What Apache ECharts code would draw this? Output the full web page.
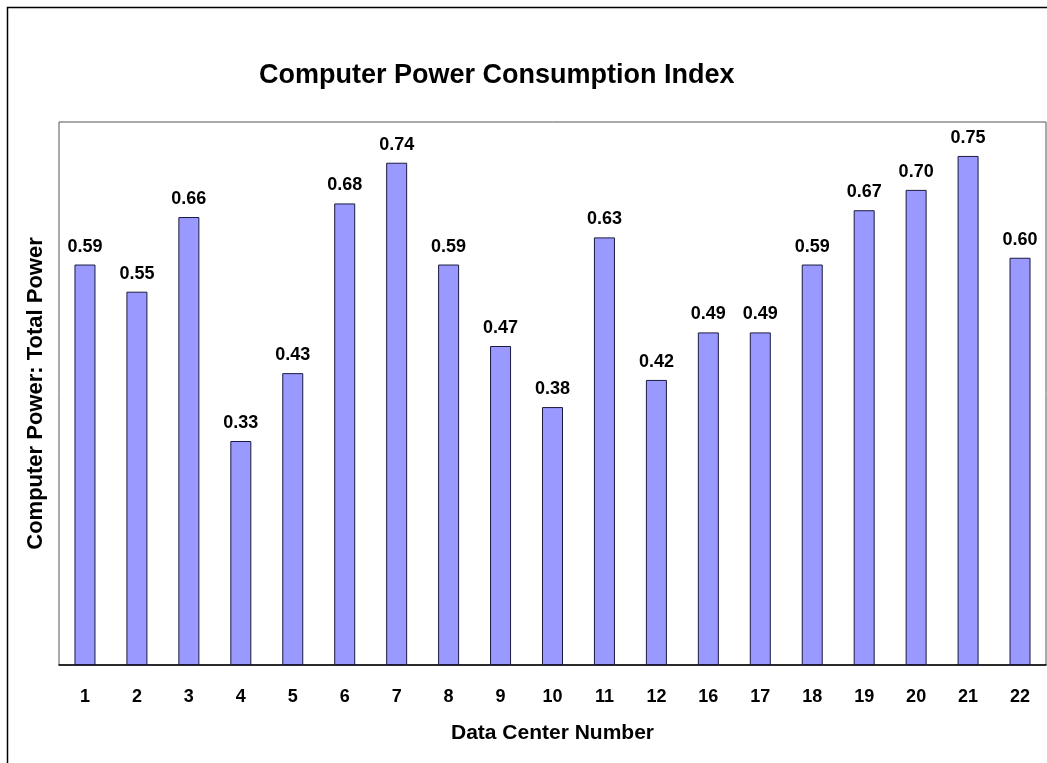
<!DOCTYPE html>
<html>
<head>
<meta charset="utf-8">
<script src="https://cdn.jsdelivr.net/npm/echarts@6/dist/echarts.min.js"></script>
<style>
  html, body { margin: 0; padding: 0; background: #fff; }
  #chart { width: 1047px; height: 763px; }
</style>
</head>
<body>
<div id="chart"></div>
<script>
var FONT = '"Liberation Sans", Arial, sans-serif'

// data center numbers (13-15 are missing in the source)
var centers = ['1', '2', '3', '4', '5', '6', '7', '8', '9', '10', '11', '12', '16', '17', '18', '19', '20', '21', '22']
// computer power : total power
var powerIndex = [0.59, 0.55, 0.66, 0.33, 0.43, 0.68, 0.74, 0.59, 0.47, 0.38, 0.63, 0.42, 0.49, 0.49, 0.59, 0.67, 0.70, 0.75, 0.60]

var option = {
  animation: false,
  backgroundColor: '#fff',
  title: {
    text: 'Computer Power Consumption Index',
    left: 254,
    top: 57,
    textStyle: { fontFamily: FONT, fontSize: 27, fontWeight: 'bold', color: '#000' }
  },
  graphic: [
    {
      // outer frame, runs off the right and bottom edge
      type: 'rect',
      shape: { x: 7.5, y: 7.5, width: 1100, height: 800 },
      style: { fill: 'none', stroke: '#000', lineWidth: 1.5 },
      silent: true
    }
  ],
  grid: {
    left: 59,
    right: 1,
    top: 122,
    bottom: 98,
    show: true,
    borderColor: '#555',
    borderWidth: 1,
    backgroundColor: '#fff'
  },
  xAxis: {
    type: 'category',
    data: centers,
    name: 'Data Center Number',
    nameLocation: 'middle',
    nameGap: 58,
    nameTextStyle: { fontFamily: FONT, fontSize: 21, fontWeight: 'bold', color: '#000' },
    axisLine: { lineStyle: { color: '#000', width: 1.5 } },
    axisTick: { show: false },
    axisLabel: { margin: 23, fontFamily: FONT, fontSize: 18, fontWeight: 'bold', color: '#000' }
  },
  yAxis: {
    type: 'value',
    min: 0,
    max: 0.8,
    name: 'Computer Power: Total Power',
    nameLocation: 'middle',
    nameGap: 12,
    nameTextStyle: { fontFamily: FONT, fontSize: 22, fontWeight: 'bold', color: '#000' },
    axisLine: { show: false },
    axisTick: { show: false },
    axisLabel: { show: false },
    splitLine: { show: false }
  },
  series: [
    {
      type: 'bar',
      data: powerIndex,
      barWidth: 21,
      itemStyle: { color: '#9999FF', borderColor: '#1a1a40', borderWidth: 1 },
      label: {
        show: true,
        position: 'top',
        distance: 9,
        formatter: function (p) { return p.value.toFixed(2) },
        fontFamily: FONT,
        fontSize: 18,
        fontWeight: 'bold',
        color: '#000'
      }
    }
  ]
}

var myChart = echarts.init(document.getElementById('chart'))
myChart.setOption(option)
</script>
</body>
</html>
